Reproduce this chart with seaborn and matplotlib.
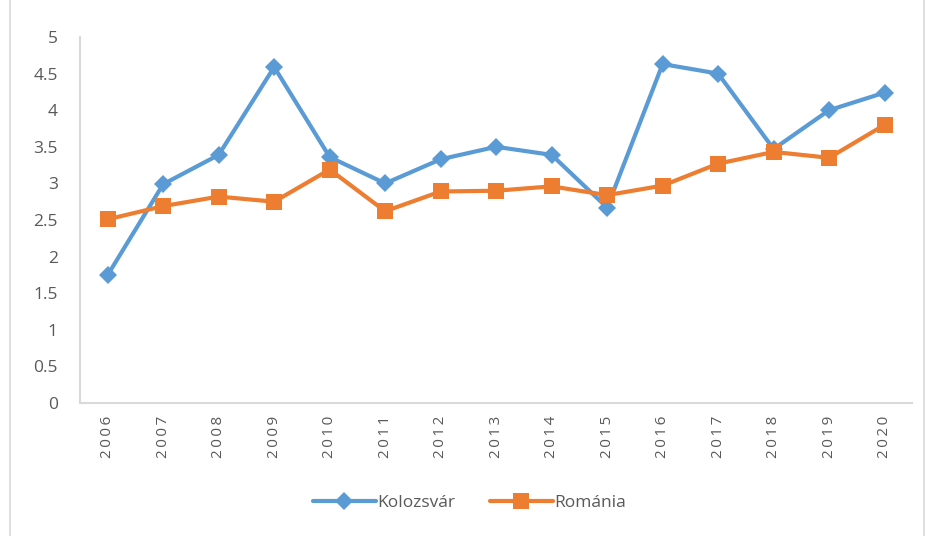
import pandas as pd
import matplotlib.pyplot as plt
import seaborn as sns
from matplotlib.patches import Rectangle

# Values
years = ['2006', '2007', '2008', '2009', '2010', '2011', '2012', '2013',
         '2014', '2015', '2016', '2017', '2018', '2019', '2020']
kolozsvar = [1.75, 2.99, 3.39, 4.59, 3.36, 3.00, 3.33, 3.50,
             3.39, 2.67, 4.63, 4.50, 3.47, 4.00, 4.24]
romania = [2.51, 2.69, 2.82, 2.75, 3.19, 2.62, 2.89, 2.90,
           2.96, 2.84, 2.97, 3.27, 3.43, 3.35, 3.80]
series_names = ['Kolozsvár', 'Románia']

df = pd.DataFrame({
    'Év': years * 2,
    'Érték': kolozsvar + romania,
    'Sorozat': [series_names[0]] * len(years) + [series_names[1]] * len(years),
})

sns.set_style('white')
plt.rcParams['font.family'] = ['Open Sans', 'DejaVu Sans']

text_col = '#595959'
fig = plt.figure(figsize=(9.3, 5.36), dpi=100)
ax = fig.add_axes([0.086, 0.248, 0.895, 0.683])

palette = {series_names[0]: '#5B9BD5', series_names[1]: '#ED7D31'}
sns.lineplot(data=df, x='Év', y='Érték', hue='Sorozat', style='Sorozat',
             markers={series_names[0]: 'D', series_names[1]: 's'},
             dashes=False, palette=palette, linewidth=3, markersize=10,
             markeredgewidth=0, ax=ax, legend=False, sort=False)

# bigger squares for Románia
for line, ms in zip(ax.get_lines(), [9, 12]):
    line.set_markersize(ms)

ax.set_xlim(-0.5, len(years) - 0.5)
ax.set_ylim(0, 5)
ax.set_yticks([0, 0.5, 1, 1.5, 2, 2.5, 3, 3.5, 4, 4.5, 5])
ax.set_yticklabels(['0', '0.5', '1', '1.5', '2', '2.5', '3', '3.5', '4', '4.5', '5'])
ax.set_xticks(range(len(years)))
ax.set_xticklabels(['\u2009'.join(y) for y in years])
ax.set_xlabel('')
ax.set_ylabel('')
ax.tick_params(axis='y', length=0, labelsize=12.5, labelcolor=text_col, pad=16)
ax.tick_params(axis='x', length=0, labelsize=11, labelcolor=text_col, pad=9)
plt.setp(ax.get_xticklabels(), rotation=90)
for s in ['top', 'right']:
    ax.spines[s].set_visible(False)
for s in ['left', 'bottom']:
    ax.spines[s].set_color('#d9d9d9')
    ax.spines[s].set_linewidth(1.5)

handles = ax.get_lines()[:2]
leg = fig.legend(handles, series_names, loc='center', bbox_to_anchor=(0.505, 0.062),
                 ncol=2, frameon=False, fontsize=12.5, handlelength=3.6,
                 columnspacing=2.0, handletextpad=0.1)
for t in leg.get_texts():
    t.set_color(text_col)

# outer chart frame
fig.patches.append(Rectangle((0.011, -0.01), 0.983, 1.05, transform=fig.transFigure,
                             fill=False, edgecolor='#d9d9d9', linewidth=1.2))

fig.savefig('out.png', dpi=100)
